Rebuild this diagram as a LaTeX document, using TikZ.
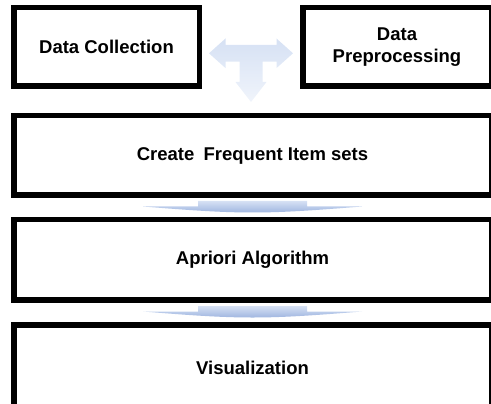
\documentclass[tikz,border=0pt]{standalone}
\usepackage{fontspec}
\setmainfont{Liberation Sans}
\usetikzlibrary{calc}

\definecolor{flowlight}{RGB}{214,225,244}
\definecolor{flowmid}{RGB}{160,182,224}
\definecolor{flowfade}{RGB}{240,244,251}

\tikzset{
	stage/.style={rectangle, draw, line width=5.5pt, align=center,
		font=\fontsize{18.5}{22}\selectfont\bfseries},
	teeshade/.style={top color=flowlight, middle color=flowmid, bottom color=flowfade},
	gapshade/.style={top color=flowlight, bottom color=flowmid},
}

\begin{document}
\begin{tikzpicture}[x=1pt, y=1pt]
			\useasboundingbox (0, 0) rectangle (491, 404);

			\node (collect)[stage, minimum width=185.5pt, minimum height=78.5pt] at (106.5, 357) {Data Collection};
			\node (prep)[stage, minimum width=188.5pt, minimum height=78.5pt] at (397, 357) {Data\\Preprocessing};

			\node (create)[stage, minimum width=477.5pt, minimum height=79.5pt] at (252.5, 248.5) {Create\enspace Frequent Item sets};
			\node (apriori)[stage, minimum width=477.5pt, minimum height=80.5pt] at (252.5, 144) {Apriori Algorithm};
			\node (visual)[stage, minimum width=477.5pt, minimum height=85.25pt] at (252.5, 36.6) {Visualization};

			\coordinate (tee) at ($(collect.east)!0.5!(prep.west)$);
			\coordinate (gap1) at ($(create.south)!0.5!(apriori.north)$);
			\coordinate (gap2) at ($(apriori.south)!0.5!(visual.north)$);

			% three-way arrow between the two first steps
			\shade[teeshade, shift={(tee)}] (-42, -6.3) -- (-25.5, 8.5) -- (-25.5, 2) -- (25.5, 2) -- (25.5, 8.5) -- (42, -6.3)
				-- (25.5, -21.1) -- (25.5, -14.6) -- (11.5, -14.6) -- (11.5, -35) -- (15.5, -35) -- (0, -55)
				-- (-15.5, -35) -- (-11.5, -35) -- (-11.5, -14.6) -- (-25.5, -14.6) -- (-25.5, -21.1) -- cycle;

			% flat arrows between the steps
			\shade[gapshade, shift={(gap1)}] (-109.5, 1) -- (-54.5, 1) -- (-54.5, 6.5) -- (54.5, 6.5) -- (54.5, 1) -- (109.5, 1)
				.. controls (60, -3) and (30, -5) .. (0, -5) .. controls (-30, -5) and (-60, -3) .. (-109.5, 1) -- cycle;
			\shade[gapshade, shift={(gap2)}] (-109.5, 1) -- (-54.5, 1) -- (-54.5, 6.5) -- (54.5, 6.5) -- (54.5, 1) -- (109.5, 1)
				.. controls (60, -3) and (30, -5) .. (0, -5) .. controls (-30, -5) and (-60, -3) .. (-109.5, 1) -- cycle;
		\end{tikzpicture}
\end{document}
